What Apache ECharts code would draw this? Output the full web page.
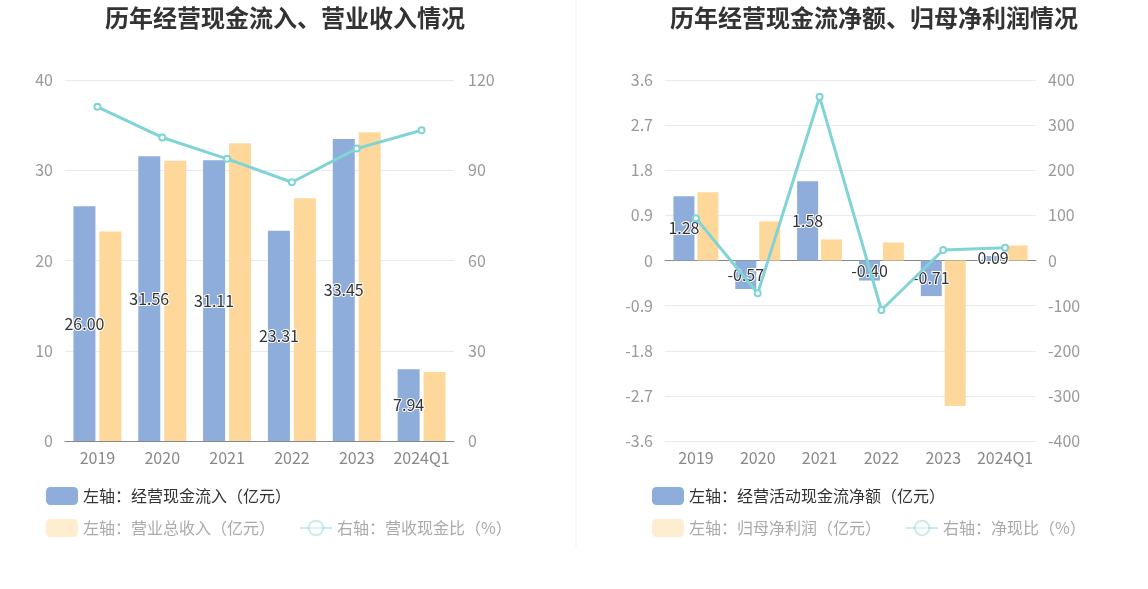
<!DOCTYPE html>
<html>
<head>
<meta charset="utf-8">
<script src="https://cdn.jsdelivr.net/npm/echarts@6/dist/echarts.min.js"></script>
<style>
  html, body { margin: 0; padding: 0; background: #fff; }
  #main { width: 1148px; height: 589px; }
</style>
</head>
<body>
<div id="main"></div>
<script>
// 数据
var years = ['2019', '2020', '2021', '2022', '2023', '2024Q1'];

// 左图：经营现金流入、营业收入
var cashIn = [26.00, 31.56, 31.11, 23.31, 33.45, 7.94];
var revenue = [23.2, 31.06, 33.0, 26.9, 34.2, 7.65];
var cashRatio = [111.1, 100.9, 93.8, 86.0, 97.2, 103.3];

// 右图：经营活动现金流净额、归母净利润
var netCash = [1.28, -0.57, 1.58, -0.40, -0.71, 0.09];
var netProfit = [1.36, 0.78, 0.42, 0.36, -2.90, 0.30];
var netRatio = [93.5, -72.7, 363, -109.7, 23.3, 28.4];

var BLUE = '#8EADDB';
var YELLOW = '#FED89A';
var TEAL = '#80D4D6';
var FONT = "'Noto Sans CJK SC', 'Noto Sans', sans-serif";

var myChart = echarts.init(document.getElementById('main'));

var axisLabelStyle = { color: '#999', fontSize: 16 };
var splitLineStyle = { lineStyle: { color: '#E6E9F2', width: 1 } };

var barLabel = {
    show: true,
    position: 'inside',
    color: '#333',
    fontSize: 16,
    textBorderColor: '#fff',
    textBorderWidth: 2,
    formatter: function (p) { return p.value.toFixed(2); }
};

var fadedText = { color: '#aaa' };
var titleText = { fontSize: 24, fontWeight: 'bold', color: '#333', fontFamily: FONT };

var option = {
    textStyle: { fontFamily: FONT },
    animation: false,
    title: [{
        text: '历年经营现金流入、营业收入情况',
        left: 280, top: 1, textAlign: 'center',
        textStyle: titleText
    }, {
        text: '历年经营现金流净额、归母净利润情况',
        left: 869, top: 1, textAlign: 'center',
        textStyle: titleText
    }],
    graphic: [{
        type: 'line',
        shape: { x1: 576, y1: 0, x2: 576, y2: 548 },
        style: { stroke: '#F0F0F0', lineWidth: 1 }
    }],
    legend: [{
        left: 41, top: 482, itemWidth: 32, itemHeight: 18,
        textStyle: { color: '#333', fontSize: 16 },
        data: [{ name: '左轴：经营现金流入（亿元）' }]
    }, {
        left: 41, top: 514, itemWidth: 32, itemHeight: 18, itemGap: 24,
        textStyle: { color: '#aaa', fontSize: 16 },
        data: [
            { name: '左轴：营业总收入（亿元）', itemStyle: { opacity: 0.45 }, textStyle: fadedText },
            { name: '右轴：营收现金比（%）', itemStyle: { opacity: 0.45 }, lineStyle: { opacity: 0.45 }, textStyle: fadedText }
        ]
    }, {
        left: 647, top: 482, itemWidth: 32, itemHeight: 18,
        textStyle: { color: '#333', fontSize: 16 },
        data: [{ name: '左轴：经营活动现金流净额（亿元）' }]
    }, {
        left: 647, top: 514, itemWidth: 32, itemHeight: 18, itemGap: 24,
        textStyle: { color: '#aaa', fontSize: 16 },
        data: [
            { name: '左轴：归母净利润（亿元）', itemStyle: { opacity: 0.45 }, textStyle: fadedText },
            { name: '右轴：净现比（%）', itemStyle: { opacity: 0.45 }, lineStyle: { opacity: 0.45 }, textStyle: fadedText }
        ]
    }],
    grid: [
        { left: 65, top: 80, width: 389, height: 361 },
        { left: 665, top: 80, width: 371, height: 361 }
    ],
    xAxis: [{
        gridIndex: 0, type: 'category', data: years,
        axisLine: { lineStyle: { color: '#888' } },
        axisTick: { alignWithLabel: true, lineStyle: { color: '#888' } },
        axisLabel: { color: '#888', fontSize: 16, margin: 9, interval: 0 }
    }, {
        gridIndex: 1, type: 'category', data: years,
        axisLine: { onZero: true, lineStyle: { color: '#888' } },
        axisTick: { alignWithLabel: true, lineStyle: { color: '#888' } },
        axisLabel: { show: false }
    }, {
        gridIndex: 1, type: 'category', data: years, position: 'bottom',
        axisLine: { show: false, onZero: false },
        axisTick: { show: false },
        axisLabel: { color: '#888', fontSize: 16, margin: 9, interval: 0 }
    }],
    yAxis: [{
        gridIndex: 0, type: 'value', min: 0, max: 40, interval: 10,
        axisLabel: Object.assign({ margin: 12 }, axisLabelStyle),
        axisLine: { show: false }, axisTick: { show: false },
        splitLine: splitLineStyle
    }, {
        gridIndex: 0, type: 'value', min: 0, max: 120, interval: 30, position: 'right',
        axisLabel: Object.assign({ margin: 14 }, axisLabelStyle),
        axisLine: { show: false }, axisTick: { show: false },
        splitLine: { show: false }
    }, {
        gridIndex: 1, type: 'value', min: -3.6, max: 3.6, interval: 0.9,
        axisLabel: Object.assign({
            margin: 12,
            formatter: function (v) { return Math.abs(v) < 1e-9 ? '0' : v.toFixed(1); }
        }, axisLabelStyle),
        axisLine: { show: false }, axisTick: { show: false },
        splitLine: splitLineStyle
    }, {
        gridIndex: 1, type: 'value', min: -400, max: 400, interval: 100, position: 'right',
        axisLabel: Object.assign({ margin: 12 }, axisLabelStyle),
        axisLine: { show: false }, axisTick: { show: false },
        splitLine: { show: false }
    }],
    series: [{
        name: '左轴：经营现金流入（亿元）', type: 'bar',
        xAxisIndex: 0, yAxisIndex: 0,
        data: cashIn, barWidth: 22, barGap: '18%',
        itemStyle: { color: BLUE },
        label: barLabel, z: 2
    }, {
        name: '左轴：营业总收入（亿元）', type: 'bar',
        xAxisIndex: 0, yAxisIndex: 0,
        data: revenue, barWidth: 22, barGap: '18%',
        itemStyle: { color: YELLOW }, z: 2
    }, {
        name: '右轴：营收现金比（%）', type: 'line',
        xAxisIndex: 0, yAxisIndex: 1,
        data: cashRatio,
        symbol: 'emptyCircle', symbolSize: 6,
        lineStyle: { color: TEAL, width: 3 },
        itemStyle: { color: TEAL, borderWidth: 2 }, z: 5
    }, {
        name: '左轴：经营活动现金流净额（亿元）', type: 'bar',
        xAxisIndex: 1, yAxisIndex: 2,
        data: netCash, barWidth: 21, barGap: '14%',
        itemStyle: { color: BLUE },
        label: barLabel, z: 2
    }, {
        name: '左轴：归母净利润（亿元）', type: 'bar',
        xAxisIndex: 1, yAxisIndex: 2,
        data: netProfit, barWidth: 21, barGap: '14%',
        itemStyle: { color: YELLOW }, z: 2
    }, {
        name: '右轴：净现比（%）', type: 'line',
        xAxisIndex: 1, yAxisIndex: 3,
        data: netRatio,
        symbol: 'emptyCircle', symbolSize: 6,
        lineStyle: { color: TEAL, width: 3 },
        itemStyle: { color: TEAL, borderWidth: 2 }, z: 5
    }]
};

myChart.setOption(option);
</script>
</body>
</html>
